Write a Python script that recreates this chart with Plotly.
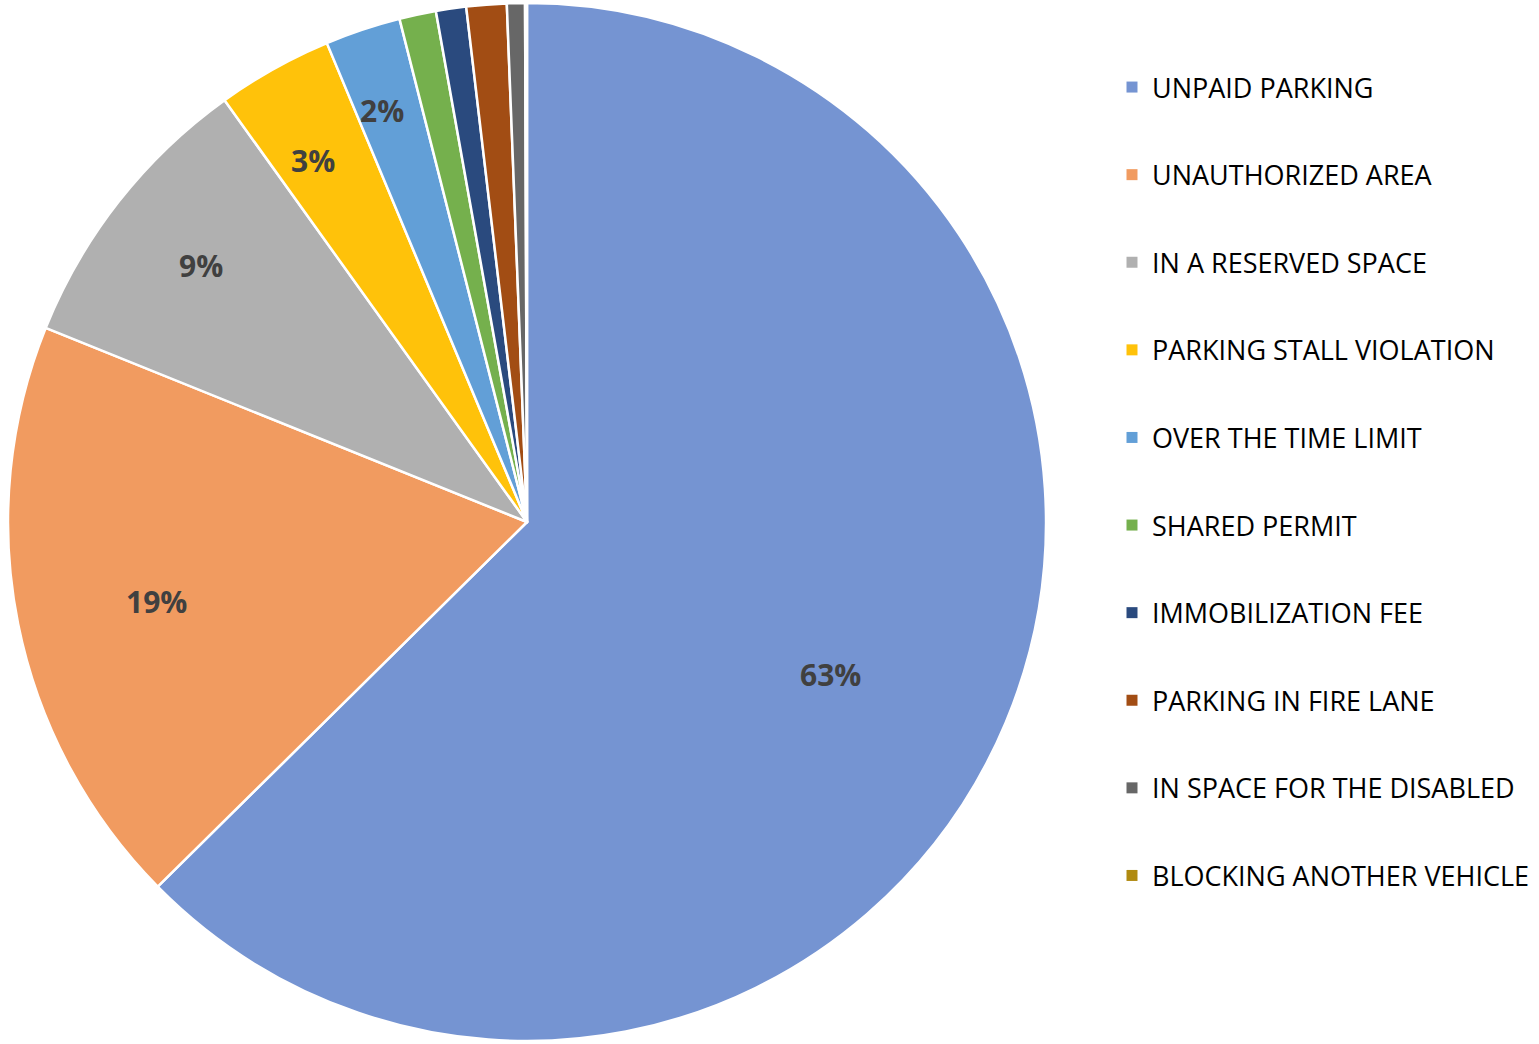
import math
import plotly.graph_objects as go

categories = [
    "UNPAID PARKING",
    "UNAUTHORIZED AREA",
    "IN A RESERVED SPACE",
    "PARKING STALL VIOLATION",
    "OVER THE TIME LIMIT",
    "SHARED PERMIT",
    "IMMOBILIZATION FEE",
    "PARKING IN FIRE LANE",
    "IN SPACE FOR THE DISABLED",
    "BLOCKING ANOTHER VEHICLE",
]
shares = [62.6, 18.5, 9.0, 3.6, 2.35, 1.14, 0.94, 1.25, 0.56, 0.06]
pct_labels = ["63%", "19%", "9%", "3%", "2%", "", "", "", "", ""]
colors = ["#7594D2", "#F19B60", "#B0B0B0", "#FFC20A", "#629FD7",
          "#75B04D", "#2A4A7E", "#A24D14", "#676767", "#B08A10"]

# label placement style (fraction of radius, angular nudge in degrees)
label_rfrac = [0.655, 0.73, 0.80, 0.81, 0.84, 0, 0, 0, 0, 0]
label_nudge = [4.0, -0.7, 0.0, -1.4, -1.0, 0, 0, 0, 0, 0]

W, H = 1539, 1044
CX, CY, R = 527.0, 522.0, 519.0

fig = go.Figure()

fig.add_trace(go.Pie(
    labels=categories,
    values=shares,
    textinfo="none",
    sort=False,
    direction="clockwise",
    rotation=0,
    marker=dict(colors=colors, line=dict(color="white", width=2.5)),
    showlegend=False,
    hoverinfo="label+percent",
    domain=dict(x=[(CX - R) / W, (CX + R) / W], y=[(H - CY - R) / H, (H - CY + R) / H]),
))

total = sum(shares)
cum = 0.0
for val, lab, rf, nd in zip(shares, pct_labels, label_rfrac, label_nudge):
    mid = (cum + val / 2) / total * 360.0 + nd
    cum += val
    if not lab:
        continue
    px = CX + rf * R * math.sin(math.radians(mid))
    py = CY - rf * R * math.cos(math.radians(mid))
    fig.add_annotation(
        x=px / W, y=1 - py / H, xref="paper", yref="paper",
        text=lab, showarrow=False, xanchor="center", yanchor="middle",
        font=dict(family="Open Sans", size=30, color="#404040", weight="bold"),
    )

for name, col in zip(categories, colors):
    fig.add_trace(go.Scatter(
        x=[None], y=[None], mode="markers", name=name,
        legendgroup=name,
        marker=dict(symbol="square", size=11, color=col),
    ))

fig.update_layout(
    width=W, height=H,
    margin=dict(l=0, r=0, t=0, b=0),
    paper_bgcolor="white",
    plot_bgcolor="white",
    xaxis=dict(visible=False),
    yaxis=dict(visible=False),
    legend=dict(
        x=1112 / W, y=1 - 63 / H, xanchor="left", yanchor="top",
        font=dict(family="Open Sans", size=27, color="#000000"),
        tracegroupgap=49.5,
        itemwidth=30,
        bgcolor="rgba(0,0,0,0)",
    ),
)

fig.write_html("out.html")
